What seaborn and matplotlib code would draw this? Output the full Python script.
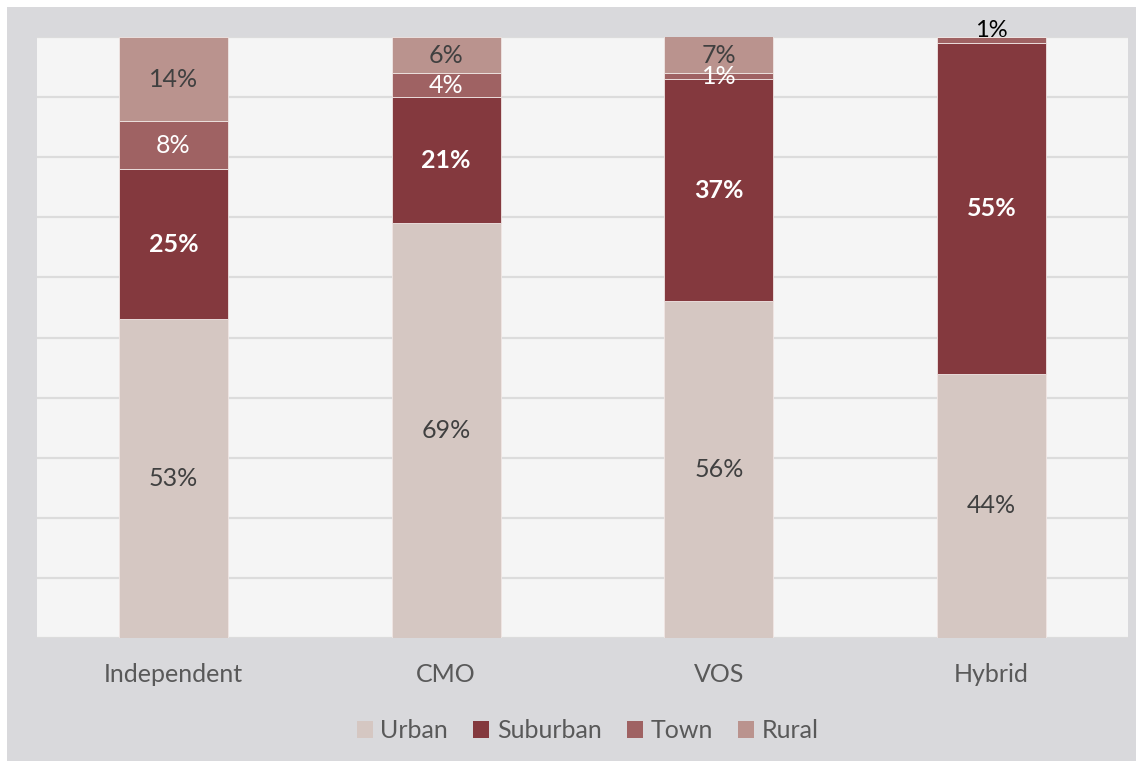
import matplotlib
matplotlib.use("Agg")
import matplotlib.pyplot as plt
from matplotlib.patches import Rectangle
import numpy as np
import seaborn as sns

# Share of schools by locale for each governance model (percent)
models = ["Independent", "CMO", "VOS", "Hybrid"]
locales = ["Urban", "Suburban", "Town", "Rural"]
urban = [53, 69, 56, 44]
suburban = [25, 21, 37, 55]
town = [8, 4, 1, 1]
rural = [14, 6, 7, 0]

series = [urban, suburban, town, rural]
colors = ["#d5c7c2", "#84393e", "#9f6263", "#ba938e"]
label_colors = ["#404040", "white", "white", "#404040"]
label_weights = ["normal", "bold", "normal", "normal"]
FS = 18

sns.set_theme(style="white")
plt.rcParams["font.family"] = ["Lato", "DejaVu Sans"]

fig = plt.figure(figsize=(11.43, 7.68), dpi=100, facecolor="white")
fig.patches.append(Rectangle((7 / 1143, 7 / 768), 1129 / 1143, 754 / 768,
                             transform=fig.transFigure, facecolor="#d9d9dc",
                             edgecolor="none", zorder=-10))
ax = fig.add_axes([37 / 1143, 1 - 638 / 768, (1128 - 37) / 1143, (638 - 37) / 768])
ax.set_facecolor("#f5f5f5")

bottoms = np.zeros(len(models))
for vals, col, lcol, lw in zip(series, colors, label_colors, label_weights):
    vals = np.array(vals, dtype=float)
    sns.barplot(x=models, y=vals, bottom=bottoms, color=col, width=0.4,
                edgecolor="#f0e6e4", linewidth=0.6, saturation=1, ax=ax, zorder=3)
    for i, v in enumerate(vals):
        if v <= 0:
            continue
        top = bottoms[i] + v
        if top >= 99.5 and v <= 1.5:
            # thin top segment: label sits above the bar
            ax.annotate(f"{int(v)}%", (i, 100), xytext=(0, -3), textcoords="offset points",
                        ha="center", va="bottom", fontsize=FS - 1, color="black",
                        annotation_clip=False, zorder=5)
        else:
            ymid = bottoms[i] + v / 2
            if top > 100:
                ymid = (bottoms[i] + 100) / 2
            ax.text(i, ymid, f"{int(v)}%", ha="center", va="center", fontsize=FS,
                    color=lcol, fontweight=lw, zorder=5)
    bottoms = bottoms + vals

ax.set_ylim(0, 100)
ax.set_xlim(-0.5, 3.5)
ax.set_yticks(np.arange(0, 101, 10))
ax.yaxis.grid(True, color="#dcdcdc", linewidth=1.6, zorder=0)
ax.set_axisbelow(True)
ax.tick_params(axis="y", left=False, labelleft=False)
ax.tick_params(axis="x", bottom=False, labelsize=FS, labelcolor="#595959", pad=12)
for s in ax.spines.values():
    s.set_visible(False)
ax.set_xlabel("")
ax.set_ylabel("")

handles = [Rectangle((0, 0), 1, 1, facecolor=c, edgecolor="none") for c in colors]
fig.legend(handles, locales, loc="center", bbox_to_anchor=(0.514, 1 - 731 / 768),
           ncol=4, frameon=False, fontsize=FS, labelcolor="#595959",
           handlelength=0.65, handleheight=0.65, handletextpad=0.3, columnspacing=1.0)

fig.savefig("out.png", dpi=100, facecolor="white")
